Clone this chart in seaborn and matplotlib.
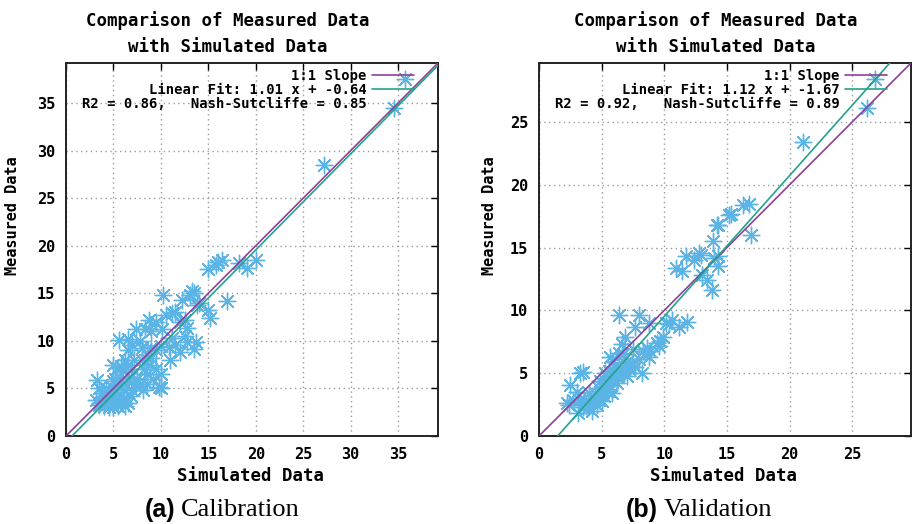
import numpy as np
import pandas as pd
import seaborn as sns
import matplotlib.pyplot as plt
from matplotlib.lines import Line2D

# calibration data (simulated vs measured)
cal_sim = [35.7, 34.6, 27.2,
           20.0, 19.1, 18.2, 16.4, 16.0, 15.8, 15.0,
           17.0, 15.0, 15.2, 14.0, 13.3, 13.1, 13.5, 12.2, 10.2, 13.8,
           12.0, 11.2, 10.5, 12.5, 11.5, 12.8, 10.1, 8.7, 8.3, 9.5, 9.0,
           13.7, 13.5, 12.8, 12.5, 11.2, 10.9, 11.5, 12.0, 11.0,
           10.0, 9.5, 9.0, 8.5, 8.0, 8.8, 9.5, 10.0, 9.2, 8.5, 9.8, 10.0,
           8.1, 7.5, 7.0, 7.2, 6.5, 7.0, 7.4, 5.6, 6.5, 7.8, 8.0,
           5.0, 5.4, 5.8, 6.0, 6.5, 6.2, 6.8, 7.2, 6.5, 7.8, 7.0, 8.5, 8.2, 9.0,
           3.3, 3.5, 3.8, 3.2, 3.6, 4.0, 4.2, 4.5, 4.8, 5.0, 5.2, 5.5, 5.8, 6.0,
           6.3, 6.5, 5.5, 5.0, 4.5, 3.8, 4.2, 4.8, 5.5, 6.0, 5.2, 4.5, 5.3, 5.9,
           6.8, 4.0, 4.6, 3.5, 6.2, 5.6, 4.9]
cal_meas = [37.5, 34.5, 28.5,
            18.5, 17.7, 18.2, 18.5, 18.3, 18.0, 17.5,
            14.2, 13.2, 12.4, 14.0, 15.2, 14.8, 15.0, 14.3, 14.8, 13.8,
            12.0, 12.9, 12.7, 12.2, 13.0, 11.3, 11.2, 12.2, 11.2, 12.0, 11.0,
            9.9, 9.1, 9.9, 10.5, 10.3, 9.4, 9.6, 8.8, 8.0,
            9.5, 9.0, 9.3, 8.5, 8.0, 7.5, 7.0, 6.5, 6.0, 6.5, 5.2, 5.0,
            4.8, 6.0, 7.0, 8.0, 9.0, 9.6, 11.2, 10.1, 10.2, 10.0, 9.2,
            7.5, 7.1, 7.4, 6.8, 7.5, 8.0, 6.2, 5.5, 5.8, 5.5, 4.8, 5.5, 7.0, 8.2,
            5.9, 5.0, 4.5, 3.8, 3.5, 3.2, 3.8, 4.2, 3.6, 4.0, 4.5, 3.8, 4.2, 4.8,
            4.0, 3.5, 3.2, 3.0, 3.0, 3.6, 5.0, 5.2, 5.5, 5.5, 6.0, 4.6, 4.8, 3.5,
            4.2, 4.2, 3.5, 3.3, 3.2, 6.2, 5.8]

# validation data
val_sim = [26.8, 26.2, 21.1,
           16.3, 16.8, 15.3, 15.2, 14.2, 14.3, 16.9, 13.9, 14.3, 11.7, 12.4,
           12.9, 10.9, 11.4, 13.0, 13.4, 13.8, 14.3, 12.8, 14.0,
           6.4, 8.0, 8.8, 7.7, 10.6, 11.8, 11.2, 10.1, 9.7, 9.4, 9.9, 8.5,
           8.8, 8.0, 8.3, 6.9, 6.6, 6.4, 5.7, 6.9, 7.2, 7.7, 8.2, 7.0, 6.5,
           6.0, 5.3, 5.6, 5.9, 5.0, 5.4, 4.5, 4.8, 4.0, 3.5, 3.2, 2.5, 3.5,
           3.3, 2.7, 2.4, 3.1, 4.2, 4.0, 5.8, 2.2, 4.3, 4.6, 5.2, 5.5, 4.8,
           3.8, 6.2, 3.0, 5.0, 6.8, 7.4, 6.2, 5.6, 5.9, 6.7, 7.5, 8.6, 7.3,
           4.4, 5.1, 3.6, 4.9, 5.7, 6.3, 7.0, 8.9, 9.6, 10.4]
val_meas = [28.4, 26.1, 23.4,
            18.4, 18.5, 17.7, 17.6, 16.8, 16.8, 16.0, 15.5, 14.3, 14.3, 14.0,
            14.4, 13.4, 13.1, 12.8, 12.4, 11.6, 13.5, 14.6, 14.2,
            9.6, 9.6, 9.0, 8.7, 9.2, 9.1, 8.7, 9.0, 7.6, 7.4, 7.9, 6.6,
            6.3, 6.1, 6.8, 7.9, 7.3, 6.6, 6.3, 5.8, 5.3, 5.5, 5.0, 4.8, 5.2,
            5.5, 5.0, 4.5, 4.8, 3.9, 4.2, 3.4, 2.9, 2.6, 2.3, 2.9, 4.1, 5.1,
            5.0, 2.9, 2.5, 1.8, 2.0, 3.4, 3.4, 2.6, 3.0, 2.5, 3.2, 3.6, 3.8,
            2.2, 4.2, 3.5, 2.8, 5.0, 5.8, 4.8, 5.2, 5.9, 6.5, 6.9, 7.0, 5.5,
            2.8, 3.5, 2.7, 4.4, 4.0, 5.1, 5.6, 6.8, 7.2, 8.9]

cal_fit = (1.01, -0.64)
val_fit = (1.12, -1.67)
cal_stats = "R2 = 0.86,   Nash-Sutcliffe = 0.85"
val_stats = "R2 = 0.92,   Nash-Sutcliffe = 0.89"

purple = '#8e3f9a'
green = '#25a28c'
blue = '#5ab4e6'

sns.set_style("white")
plt.rcParams['font.family'] = ['DejaVu Sans Mono']
plt.rcParams['font.weight'] = 'bold'
plt.rcParams['text.color'] = 'black'

fig = plt.figure(figsize=(9.16, 5.24), dpi=100)
W, H = 916, 524


def panel(rect, sim, meas, fit, stats, lim, ticks):
    ax = fig.add_axes(rect)
    df = pd.DataFrame({'sim': sim, 'meas': meas})
    sns.scatterplot(data=df, x='sim', y='meas', ax=ax, marker=(8, 2, 0), s=140,
                    color=blue, linewidth=1.0, zorder=2, legend=False)
    xs = np.array([0, lim])
    ax.plot(xs, xs, color=purple, lw=1.2, zorder=3)
    ax.plot(xs, fit[0] * xs + fit[1], color=green, lw=1.2, zorder=3)
    ax.set_xlim(0, lim)
    ax.set_ylim(0, lim)
    ax.set_xticks(ticks)
    ax.set_yticks(ticks)
    ax.set_xlabel('')
    ax.set_ylabel('')
    ax.grid(True, linestyle=(0, (1, 2.5)), color='#9a9a9a', lw=1)
    ax.tick_params(direction='in', length=5, width=1, top=True, right=True,
                   labelsize=11, pad=8, colors='black')
    for s in ax.spines.values():
        s.set_color('#222222')
        s.set_linewidth(1.4)
    handles = [Line2D([], [], color=purple, lw=1.2),
               Line2D([], [], color=green, lw=1.2),
               Line2D([], [], color='none')]
    labels = ['1:1 Slope', f'Linear Fit: {fit[0]:.2f} x + {fit[1]:.2f}', stats]
    leg = ax.legend(handles, labels, loc='upper right', bbox_to_anchor=(0.935, 0.985),
                    frameon=False, markerfirst=False, fontsize=10, handlelength=3.0,
                    handletextpad=0.4, labelspacing=0.0, borderpad=0, borderaxespad=0)
    for t in leg.get_texts():
        t.set_color('black')
    leg.set_zorder(5)
    return ax


ax1 = panel([66 / W, 88 / H, 372 / W, 373 / H], cal_sim, cal_meas, cal_fit, cal_stats,
            39.2, list(range(0, 36, 5)))
ax2 = panel([539 / W, 88 / H, 372 / W, 373 / H], val_sim, val_meas, val_fit, val_stats,
            29.7, list(range(0, 26, 5)))

# titles and labels
for cx, xl_x, yl_x in [(228, 250, 13), (716, 723, 490)]:
    fig.text(cx / W, 1 - 21 / H, 'Comparison of Measured Data', ha='center', va='center',
             fontsize=12.5, fontweight='bold')
    fig.text(cx / W, 1 - 47 / H, 'with Simulated Data', ha='center', va='center',
             fontsize=12.5, fontweight='bold')
    fig.text(xl_x / W, 1 - 476 / H, 'Simulated Data', ha='center', va='center',
             fontsize=12.5, fontweight='bold')
    fig.text(yl_x / W, 1 - 216 / H, 'Measured Data', ha='center', va='center',
             rotation=90, fontsize=11, fontweight='bold')

# captions
for xa, tag, name in [(175, '(a)', 'Calibration'), (658, '(b)', 'Validation')]:
    fig.text(xa / W, 1 - 510 / H, tag, ha='right', va='center', fontsize=18,
             fontweight='bold', family=['Liberation Sans'])
    fig.text((xa + 6) / W, 1 - 510 / H, name, ha='left', va='center', fontsize=19,
             fontweight='normal', family=['Liberation Serif'])

plt.savefig('out.png', dpi=100)
